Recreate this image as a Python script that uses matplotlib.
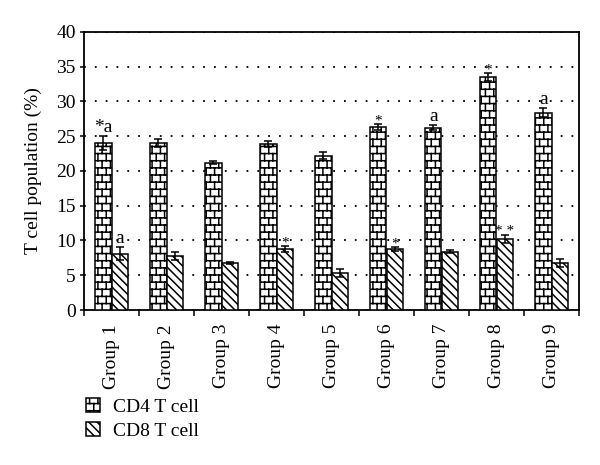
import warnings
import numpy as np
import matplotlib
matplotlib.use("Agg")
import matplotlib.pyplot as plt
from matplotlib import hatch as mhatch
from matplotlib.path import Path

warnings.filterwarnings("ignore")

# ======================
# Dados
# ======================
grupos = ["Group 1", "Group 2", "Group 3", "Group 4", "Group 5",
          "Group 6", "Group 7", "Group 8", "Group 9"]
cd4 = [24.0, 24.0, 21.2, 23.9, 22.2, 26.3, 26.2, 33.5, 28.4]
cd4_err = [1.0, 0.55, 0.2, 0.45, 0.5, 0.4, 0.35, 0.55, 0.6]
cd8 = [8.1, 7.8, 6.7, 8.8, 5.3, 8.8, 8.4, 10.2, 6.8]
cd8_err = [0.95, 0.6, 0.15, 0.4, 0.6, 0.25, 0.2, 0.6, 0.6]
cd4_marcas = ["*a", "", "", "", "", "*", "a", "*", "a"]
cd8_marcas = ["a", "", "", "*", "", "*", "", "* *", ""]


# padrão "tijolo" (não existe no matplotlib)
class BrickHatch(mhatch.HatchPatternBase):
    rows = 14
    cols = 12

    def __init__(self, hatch, density):
        self.on = "b" in hatch
        if self.on:
            self.num_vertices = (self.rows + (self.rows + 1) * self.cols) * 2
        else:
            self.num_vertices = 0

    def set_vertices_and_codes(self, vertices, codes):
        k = 0
        for r in range(self.rows):
            y = (r + 0.5) / self.rows
            vertices[k] = (0.0, y)
            vertices[k + 1] = (1.0, y)
            k += 2
        for r in range(-1, self.rows):
            y0 = max(0.0, (r + 0.5) / self.rows)
            y1 = min(1.0, (r + 1.5) / self.rows)
            for c in range(self.cols):
                x = (c + 0.25 + 0.5 * (r % 2)) / self.cols
                vertices[k] = (x, y0)
                vertices[k + 1] = (x, y1)
                k += 2
        codes[0::2] = Path.MOVETO
        codes[1::2] = Path.LINETO


mhatch._hatch_types.append(BrickHatch)

plt.rcParams["font.family"] = ["Liberation Serif", "DejaVu Serif"]
plt.rcParams["hatch.linewidth"] = 1.1
plt.rcParams["hatch.color"] = "black"

fig = plt.figure(figsize=(6, 4.65), dpi=100)
ax = fig.add_axes([0.14, 0.3333, 0.825, 0.598])

x = np.arange(len(grupos))
w = 0.3
err_kw = dict(elinewidth=1.1, capsize=3.2, capthick=1.1, ecolor="black", zorder=4)

b4 = ax.bar(x - w / 2, cd4, w, color="white", edgecolor="black", linewidth=1.1,
            hatch="b", label="CD4 T cell", zorder=3)
b8 = ax.bar(x + w / 2, cd8, w, color="white", edgecolor="black", linewidth=1.1,
            hatch="\\\\\\\\", label="CD8 T cell", zorder=3)
ax.errorbar(x - w / 2, cd4, yerr=cd4_err, fmt="none", **err_kw)
ax.errorbar(x + w / 2, cd8, yerr=cd8_err, fmt="none", **err_kw)

# marcas de significância
for xs, vals, errs, marcas in [(x - w / 2, cd4, cd4_err, cd4_marcas),
                               (x + w / 2, cd8, cd8_err, cd8_marcas)]:
    for xi, v, e, m in zip(xs, vals, errs, marcas):
        if not m:
            continue
        if "a" in m:
            dy, fs = 3, 14
        else:
            dy, fs = 0, 11
        ax.annotate(m, (xi, v + e), xytext=(0, dy), textcoords="offset points",
                    ha="center", va="baseline", fontsize=fs, zorder=5)

ax.set_xlim(-0.5, len(grupos) - 0.5)
ax.set_ylim(0, 40)
ax.set_yticks(np.arange(0, 41, 5))
ax.tick_params(axis="y", labelsize=14, direction="out", length=3, width=1.1, pad=3)

ax.set_xticks(x)
ax.set_xticklabels(grupos, rotation=90, fontsize=14)
ax.set_xticks(np.arange(-0.5, len(grupos), 1), minor=True)
ax.tick_params(axis="x", which="major", length=0, pad=10)
ax.tick_params(axis="x", which="minor", length=4, width=1.1, direction="out")

ax.set_ylabel("T cell population (%)", fontsize=14, labelpad=10)

ax.grid(axis="y", linestyle=(0, (1, 5)), linewidth=1.3, color="black")
ax.set_axisbelow(True)
for s in ax.spines.values():
    s.set_linewidth(1.3)

fig.legend(handles=[b4, b8], loc="upper left",
           bbox_to_anchor=(86 / 600, 1 - 398 / 465), frameon=False,
           borderpad=0, borderaxespad=0, handlelength=0.72, handleheight=0.72,
           handletextpad=0.65, labelspacing=0.32, fontsize=14)

fig.savefig("out.png", dpi=100)
